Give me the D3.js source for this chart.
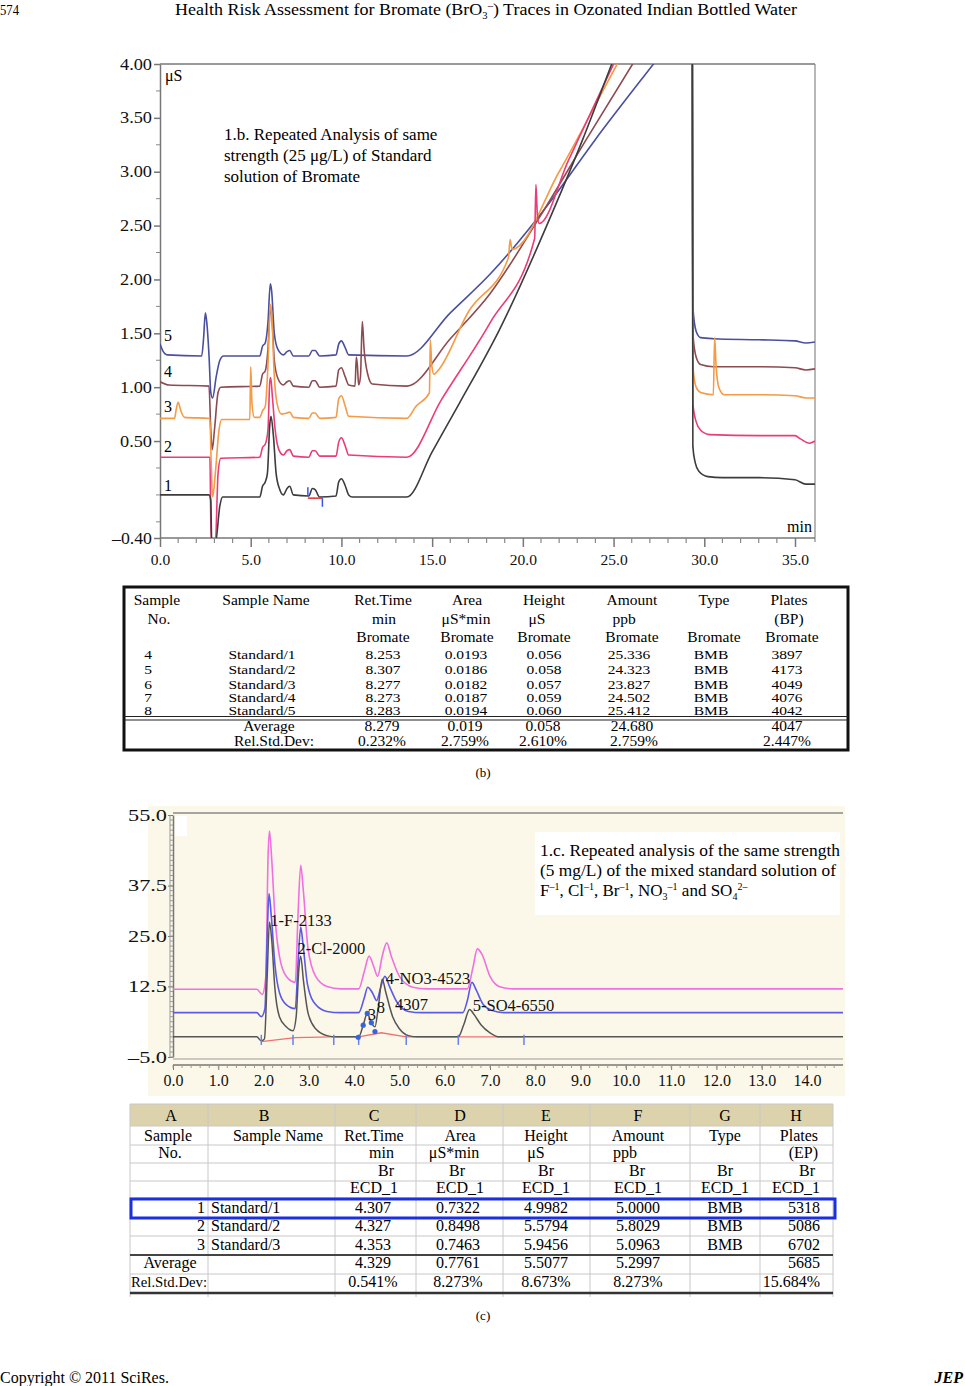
<!DOCTYPE html>
<html><head><meta charset="utf-8">
<script src="https://cdn.jsdelivr.net/npm/d3@7"></script>
<style>
body{margin:0;background:#fff}
svg{display:block;font-family:"Liberation Serif","Times New Roman",serif}
</style></head>
<body><svg id="page" width="965" height="1386"></svg>
<script>
// ---------------- DATA: chart (b) ----------------
const bTimeTicks = [0, 5, 10, 15, 20, 25, 30, 35];
const bValueTicks = [4.0, 3.5, 3.0, 2.5, 2.0, 1.5, 1.0, 0.5, -0.4];
const bTraceNames = ["1", "2", "3", "4", "5"];
const trace1 = [[0,0.0],[2.7,0.0],[2.8,-0.05],[2.85,-0.45],[3.05,-0.45],[3.3,-0.1],[3.45,-0.02],[5.5,-0.02],[5.65,0.08],[5.8,0.12],[5.92,0.2],[6.05,0.65],[6.12,0.73],[6.25,0.55],[6.4,0.2],[6.6,0.05],[6.8,0.0],[7.0,0.06],[7.15,0.08],[7.35,0.0],[8.2,-0.01],[8.4,0.06],[8.55,0.05],[8.8,-0.02],[9.7,-0.01],[9.85,0.12],[10.0,0.15],[10.2,0.09],[10.4,0.0],[10.6,-0.02],[13.6,-0.02],[15.0,0.4],[16.5,0.85],[18.7,1.53],[21.7,2.65],[23.3,3.3],[24.9,4.0],[29.33,5.9],[29.37,0.45],[29.5,0.3],[29.7,0.22],[30.2,0.17],[31.0,0.16],[33.0,0.16],[35.0,0.14],[35.6,0.1],[36.1,0.1]];
const trace2 = [[0,0.35],[2.75,0.35],[2.82,-0.45],[3.05,-0.45],[3.2,0.2],[3.35,0.34],[5.5,0.35],[5.65,0.44],[5.8,0.47],[5.95,0.6],[6.05,1.05],[6.1,1.09],[6.2,0.9],[6.35,0.6],[6.55,0.42],[6.8,0.37],[7.0,0.41],[7.15,0.42],[7.35,0.36],[8.2,0.35],[8.4,0.41],[8.55,0.41],[8.8,0.36],[9.7,0.36],[9.85,0.49],[10.0,0.53],[10.2,0.46],[10.4,0.37],[13.6,0.35],[15.5,0.88],[18.2,1.6],[20.65,2.38],[20.72,2.88],[20.8,2.6],[20.9,2.52],[22.5,3.1],[25.0,4.0],[29.33,5.55],[29.37,0.85],[29.55,0.68],[29.8,0.6],[30.3,0.56],[33.0,0.55],[35.0,0.55],[35.3,0.52],[35.8,0.48],[36.1,0.5]];
const trace3 = [[0,0.71],[0.8,0.71],[0.9,0.8],[1.0,0.86],[1.15,0.78],[1.35,0.72],[2.75,0.71],[2.82,0.3],[2.9,-0.02],[3.05,0.2],[3.25,0.6],[3.4,0.7],[4.95,0.7],[5.0,1.19],[5.07,0.85],[5.2,0.72],[5.5,0.72],[5.65,0.78],[5.8,0.82],[5.95,1.2],[6.08,1.77],[6.15,1.7],[6.3,1.1],[6.45,0.85],[6.7,0.75],[7.0,0.76],[7.15,0.77],[7.35,0.72],[8.2,0.71],[8.4,0.76],[8.55,0.76],[8.8,0.71],[9.7,0.72],[9.85,0.89],[10.0,0.92],[10.2,0.83],[10.4,0.73],[13.6,0.71],[14.1,0.82],[14.85,0.95],[14.9,1.44],[14.98,1.2],[15.1,1.12],[15.3,1.15],[17.0,1.7],[19.2,2.2],[19.3,2.37],[19.4,2.28],[22.0,3.0],[25.2,4.0],[29.33,5.28],[29.37,1.2],[29.55,1.0],[29.8,0.95],[30.5,0.93],[30.57,1.46],[30.65,1.2],[30.8,1.0],[31.1,0.93],[33.0,0.93],[35.0,0.92],[35.6,0.9],[36.1,0.9]];
const trace4 = [[0,1.05],[0.5,1.02],[2.7,1.01],[2.8,0.6],[2.88,0.42],[3.0,0.6],[3.2,0.95],[3.35,1.0],[5.5,1.01],[5.65,1.12],[5.8,1.15],[5.95,1.35],[6.08,1.72],[6.15,1.68],[6.3,1.25],[6.5,1.08],[6.8,1.02],[7.0,1.05],[7.15,1.06],[7.35,1.01],[8.2,1.0],[8.4,1.06],[8.55,1.06],[8.8,1.0],[9.7,1.01],[9.85,1.16],[10.0,1.18],[10.2,1.1],[10.4,1.02],[10.75,1.01],[10.82,1.28],[10.88,1.2],[10.95,1.02],[11.05,1.1],[11.15,1.61],[11.25,1.35],[11.45,1.12],[11.7,1.03],[13.6,1.01],[16.0,1.45],[18.2,1.87],[21.0,2.6],[23.5,3.3],[26.05,4.0],[29.33,4.89],[29.37,1.5],[29.55,1.28],[29.8,1.21],[30.5,1.19],[33.0,1.19],[35.0,1.18],[35.6,1.16],[36.1,1.17]];
const trace5 = [[0,1.4],[0.15,1.34],[0.4,1.3],[2.3,1.29],[2.4,1.45],[2.5,1.69],[2.58,1.6],[2.7,1.3],[2.8,0.95],[2.9,0.9],[3.1,1.1],[3.3,1.25],[3.5,1.29],[5.5,1.29],[5.65,1.38],[5.8,1.41],[5.95,1.6],[6.08,1.96],[6.15,1.9],[6.3,1.5],[6.5,1.35],[6.8,1.3],[7.0,1.33],[7.15,1.34],[7.35,1.29],[8.2,1.29],[8.4,1.34],[8.55,1.34],[8.8,1.29],[9.7,1.3],[9.85,1.4],[10.0,1.43],[10.2,1.37],[10.4,1.3],[13.6,1.29],[16.0,1.69],[18.2,2.05],[21.5,2.72],[24.0,3.3],[27.2,4.0],[29.33,4.46],[29.37,1.75],[29.55,1.52],[29.8,1.46],[30.5,1.45],[33.0,1.44],[35.0,1.43],[35.6,1.41],[36.1,1.42]];
const bMarkerTicks = [[8.15, 0.07, -0.01], [8.95, -0.03, -0.11]];
const bMarkerBase = [[8.15, -0.03], [8.95, -0.03]];

// ---------------- DATA: table (b) ----------------
const bCols = ["Sample", "Sample Name", "Ret.Time", "Area", "Height", "Amount", "Type", "Plates"];
const bUnits = ["No.", "", "min", "μS*min", "μS", "ppb", "", "(BP)"];
const bComp = ["", "", "Bromate", "Bromate", "Bromate", "Bromate", "Bromate", "Bromate"];
const bSampleNo = ["4", "5", "6", "7", "8"];
const bSampleName = ["Standard/1", "Standard/2", "Standard/3", "Standard/4", "Standard/5"];
const bRetTime = ["8.253", "8.307", "8.277", "8.273", "8.283"];
const bArea = ["0.0193", "0.0186", "0.0182", "0.0187", "0.0194"];
const bHeight = ["0.056", "0.058", "0.057", "0.059", "0.060"];
const bAmount = ["25.336", "24.323", "23.827", "24.502", "25.412"];
const bType = ["BMB", "BMB", "BMB", "BMB", "BMB"];
const bPlates = ["3897", "4173", "4049", "4076", "4042"];
const bAverage = ["", "Average", "8.279", "0.019", "0.058", "24.680", "", "4047"];
const bRSD = ["", "Rel.Std.Dev:", "0.232%", "2.759%", "2.610%", "2.759%", "", "2.447%"];

// ---------------- DATA: chart (c) ----------------
const cTimeTicks = [0,1,2,3,4,5,6,7,8,9,10,11,12,13,14];
const cValueTicks = [55.0, 37.5, 25.0, 12.5, -5.0];
const cBlack = [[0,0],[1.85,0],[1.95,-1.0],[2.02,-0.5],[2.08,15],[2.13,28.5],[2.18,24],[2.25,12],[2.35,5],[2.5,2.5],[2.65,1.5],[2.72,5],[2.78,17],[2.82,20],[2.88,14],[2.98,6],[3.15,2],[3.4,0.3],[3.6,0],[4.1,0],[4.2,2.9],[4.29,5.8],[4.38,3.5],[4.46,2.5],[4.53,7],[4.62,14.3],[4.7,11],[4.85,5],[5.0,2],[5.2,0.3],[5.4,0],[6.3,0],[6.42,3],[6.55,6.8],[6.65,5.5],[6.8,3],[7.0,1],[7.2,0],[14.8,0]];
const cBlue = [[0,6],[1.85,6],[1.95,5],[2.03,7],[2.08,25],[2.12,35.5],[2.17,30],[2.25,18],[2.35,11],[2.5,8],[2.7,7],[2.76,18],[2.82,27.2],[2.87,23],[2.97,13],[3.15,8],[3.4,6.3],[3.7,6],[4.1,6],[4.22,9.5],[4.3,12.3],[4.4,11],[4.5,9],[4.58,12],[4.68,15],[4.78,12.5],[4.95,8.5],[5.2,6.3],[5.5,6],[6.4,6],[6.5,9],[6.6,13.5],[6.7,11.5],[6.85,8],[7.05,6.5],[7.3,6],[14.8,6]];
const cMagenta = [[0,11.8],[1.85,11.8],[1.97,10.5],[2.05,15],[2.1,45],[2.13,51],[2.18,44],[2.25,30],[2.35,20],[2.5,15],[2.7,13.5],[2.76,30],[2.82,42.5],[2.88,36],[2.98,22],[3.15,15],[3.4,12.5],[3.7,11.9],[4.1,11.9],[4.22,16],[4.33,20],[4.43,17.5],[4.52,15],[4.62,20],[4.72,23.3],[4.82,20],[5.0,15],[5.3,12.3],[5.6,11.9],[6.5,11.9],[6.62,17],[6.72,21.8],[6.82,20.5],[7.0,15],[7.2,12.5],[7.5,11.9],[14.8,11.9]];
const cRedBase = [[1.95,-1.2],[2.7,-0.2],[3.5,0],[4.1,0],[4.6,1.0],[5.15,0],[6.3,0],[7.75,0]];
const cTickMarks = [1.95, 2.65, 3.55, 4.1, 5.15, 6.3, 7.75];
const cDots = [[4.09,-0.1],[4.2,2.9],[4.29,5.8],[4.38,3.5],[4.46,1.3]];
const cPeakLabels = ["1-F-2133", "2-Cl-2000", "4-NO3-4523", "3", "8", "4307", "5-SO4-6550"];
const cPeakLabelPos = [[2.15, 27.5], [2.75, 20.5], [4.7, 13.1], [4.3, 4.2], [4.5, 6.0], [4.9, 6.6], [6.62, 6.4]];

// ---------------- DATA: table (c) ----------------
const cColLetters = ["A", "B", "C", "D", "E", "F", "G", "H"];
const cCols = ["Sample", "Sample Name", "Ret.Time", "Area", "Height", "Amount", "Type", "Plates"];
const cUnits = ["No.", "", "min", "μS*min", "μS", "ppb", "", "(EP)"];
const cComp = ["", "", "Br", "Br", "Br", "Br", "Br", "Br"];
const cDet = ["", "", "ECD_1", "ECD_1", "ECD_1", "ECD_1", "ECD_1", "ECD_1"];
const cSampleNo = ["1", "2", "3"];
const cSampleName = ["Standard/1", "Standard/2", "Standard/3"];
const cRetTime = ["4.307", "4.327", "4.353"];
const cArea = ["0.7322", "0.8498", "0.7463"];
const cHeight = ["4.9982", "5.5794", "5.9456"];
const cAmount = ["5.0000", "5.8029", "5.0963"];
const cType = ["BMB", "BMB", "BMB"];
const cPlates = ["5318", "5086", "6702"];
const cAverage = ["Average", "", "4.329", "0.7761", "5.5077", "5.2997", "", "5685"];
const cRSD = ["Rel.Std.Dev:", "", "0.541%", "8.273%", "8.673%", "8.273%", "", "15.684%"];

// ================= DRAWING =================
const svg = d3.select("#page");
const serif = '"Liberation Serif","Times New Roman",serif';

// page header
svg.append("text").attr("x", 0).attr("y", 15).attr("font-size", 15).attr("textLength", 19).attr("lengthAdjust", "spacingAndGlyphs").text("574");
const title = svg.append("text").attr("x", 175).attr("y", 15).attr("font-size", 17)
  .attr("textLength", 622).attr("lengthAdjust", "spacingAndGlyphs");
title.append("tspan").text("Health Risk Assessment for Bromate (BrO");
title.append("tspan").attr("font-size", 10).attr("dy", 4).text("3");
title.append("tspan").attr("font-size", 10).attr("dy", -10).text("–");
title.append("tspan").attr("dy", 6).text(") Traces in Ozonated Indian Bottled Water");

// ---------- chart (b) ----------
const xB = d3.scaleLinear().domain([0, 35]).range([160, 795]);
const yB = d3.scaleLinear().domain([-0.4, 4.0]).range([538, 64]);
const bRight = 815;
const gb = svg.append("g");
gb.append("defs").append("clipPath").attr("id", "clipB").append("rect")
  .attr("x", xB(0)).attr("y", yB(4)).attr("width", bRight - xB(0)).attr("height", yB(-0.4) - yB(4));

gb.append("line").attr("x1", xB(0)).attr("x2", bRight).attr("y1", yB(4)).attr("y2", yB(4)).attr("stroke", "#777").attr("stroke-width", 1.5);
gb.append("line").attr("x1", bRight).attr("x2", bRight).attr("y1", yB(4)).attr("y2", yB(-0.4) + 4).attr("stroke", "#888").attr("stroke-width", 1.2);

const yAx = gb.append("g").attr("transform", `translate(${xB(0)},0)`)
  .call(d3.axisLeft(yB).tickValues(bValueTicks).tickSize(6).tickSizeOuter(0)
    .tickFormat(d => d < 0 ? "–" + Math.abs(d).toFixed(2) : d.toFixed(2)));
yAx.select(".domain").attr("stroke", "#777").attr("stroke-width", 1.5);
yAx.selectAll(".tick line").attr("stroke", "#777").attr("stroke-width", 1.5);
yAx.selectAll("text").attr("font-family", serif).attr("font-size", 16).attr("fill", "#111").attr("x", -8)
  .attr("textLength", d => d < 0 ? 40 : 32).attr("lengthAdjust", "spacingAndGlyphs");
const yMinor = d3.range(-0.25, 4.0, 0.25).filter(v => Math.abs(v * 2 - Math.round(v * 2)) > 0.01 || v === 0);
gb.append("g").selectAll("line").data(yMinor).join("line")
  .attr("x1", xB(0) - 4).attr("x2", xB(0)).attr("y1", d => yB(d)).attr("y2", d => yB(d)).attr("stroke", "#888");

const xAx = gb.append("g").attr("transform", `translate(0,${yB(-0.4)})`)
  .call(d3.axisBottom(xB).tickValues(bTimeTicks).tickSize(9).tickSizeOuter(0).tickFormat(d3.format(".1f")));
xAx.select(".domain").attr("stroke", "#777").attr("stroke-width", 1.5).attr("d", `M${xB(0)},0H${bRight}`);
xAx.selectAll(".tick line").attr("stroke", "#777").attr("stroke-width", 1.5);
xAx.selectAll("text").attr("font-family", serif).attr("font-size", 15.5).attr("fill", "#111").attr("y", 16);
gb.append("g").selectAll("line").data(d3.range(0, 36, 1).filter(v => v % 5 !== 0)).join("line")
  .attr("x1", d => xB(d)).attr("x2", d => xB(d)).attr("y1", yB(-0.4)).attr("y2", yB(-0.4) + 5).attr("stroke", "#888").attr("stroke-width", 1.2);

const lineB = d3.line().x(d => xB(d[0])).y(d => yB(d[1])).curve(d3.curveMonotoneX);
const bTraces = [trace1, trace2, trace3, trace4, trace5];
const bColors = ["#3c3c3c", "#ea3c7a", "#f59a45", "#8c4b50", "#4a4f9e"];
const tg = gb.append("g").attr("clip-path", "url(#clipB)");
[4, 3, 2, 1, 0].forEach(i => {
  tg.append("path").datum(bTraces[i]).attr("d", lineB).attr("fill", "none")
    .attr("stroke", bColors[i]).attr("stroke-width", 1.6).attr("stroke-linejoin", "round");
});
tg.append("path").datum(bMarkerBase).attr("d", d3.line().x(d => xB(d[0])).y(d => yB(d[1])))
  .attr("stroke", "#e03030").attr("stroke-width", 1.5).attr("fill", "none");
tg.selectAll("line.mk").data(bMarkerTicks).join("line").attr("class", "mk")
  .attr("x1", d => xB(d[0])).attr("x2", d => xB(d[0])).attr("y1", d => yB(d[1])).attr("y2", d => yB(d[2]))
  .attr("stroke", "#3355ee").attr("stroke-width", 1.5);

const bNumY = [491, 452, 412, 377, 341];
gb.selectAll("text.num").data(bTraceNames).join("text").attr("class", "num")
  .attr("x", 164).attr("y", (d, i) => bNumY[i]).attr("font-size", 16).text(d => d);
gb.append("text").attr("x", 165).attr("y", 81).attr("font-size", 16).text("μS");
gb.append("text").attr("x", 787).attr("y", 532).attr("font-size", 16).text("min");
["1.b. Repeated Analysis of same", "strength (25 μg/L) of Standard", "solution of Bromate"].forEach((t, i) => {
  gb.append("text").attr("x", 224).attr("y", 140 + i * 21).attr("font-size", 17).text(t);
});

// ---------- table (b) ----------
const tb = svg.append("g").attr("font-size", 15.5);
tb.append("rect").attr("x", 124).attr("y", 587).attr("width", 724).attr("height", 163)
  .attr("fill", "#fff").attr("stroke", "#111").attr("stroke-width", 3);
tb.append("line").attr("x1", 124).attr("x2", 848).attr("y1", 716.5).attr("y2", 716.5).attr("stroke", "#222").attr("stroke-width", 1.2);
tb.append("line").attr("x1", 124).attr("x2", 848).attr("y1", 720).attr("y2", 720).attr("stroke", "#222").attr("stroke-width", 1.2);
const bColX = [157, 266, 383, 467, 544, 632, 714, 789];
const bUnitX = [159, 266, 384, 466, 537, 624, 714, 789];
const bDataX = [148, 262, 383, 466, 544, 629, 711, 787];
function txt(g, x, y, s, anchor) {
  return g.append("text").attr("x", x).attr("y", y).attr("text-anchor", anchor || "middle").text(s);
}
// squeezed text (rows in the reference are vertically compressed)
function txtS(g, x, y, s, sy) {
  return g.append("text").attr("transform", `translate(${x},${y}) scale(1.0,${sy})`)
    .attr("text-anchor", "middle").text(s);
}
bCols.forEach((s, i) => txt(tb, bColX[i], 605, s));
bUnits.forEach((s, i) => s && txt(tb, bUnitX[i], 624, s));
bComp.forEach((s, i) => s && txt(tb, i === 7 ? 792 : bColX[i], 642, s));
const bRowY = [659, 674, 689, 702, 715];
const bRowSquash = [0.86, 0.86, 0.86, 0.78, 0.78];
const bRowsCols = [bSampleNo, bSampleName, bRetTime, bArea, bHeight, bAmount, bType, bPlates];
bRowsCols.forEach((col, ci) => col.forEach((s, ri) => txtS(tb, bDataX[ci], bRowY[ri], s, bRowSquash[ri])));
const bSumX = [148, 269, 382, 465, 543, 632, 711, 787];
bAverage.forEach((s, i) => s && txtS(tb, bSumX[i], 731, s, 0.9));
const bRsdX = [148, 274, 382, 465, 543, 634, 711, 787];
bRSD.forEach((s, i) => s && txtS(tb, bRsdX[i], 746, s, 0.9));
svg.append("text").attr("x", 483).attr("y", 777).attr("font-size", 13).attr("text-anchor", "middle").text("(b)");

// ---------- chart (c) ----------
const xC = d3.scaleLinear().domain([0, 14]).range([173, 807]);
const yC = d3.scaleLinear().domain([-5, 55]).range([1057, 815]);
const cRight = 843;
const gc = svg.append("g");
gc.append("rect").attr("x", 148).attr("y", 806).attr("width", cRight - 148 + 2).attr("height", 290).attr("fill", "#fcf8e9");
gc.append("rect").attr("x", 175).attr("y", 816).attr("width", 12).attr("height", 20).attr("fill", "#fff");
gc.append("defs").append("clipPath").attr("id", "clipC").append("rect")
  .attr("x", xC(0)).attr("y", yC(55)).attr("width", cRight - xC(0)).attr("height", yC(-5) - yC(55));
gc.append("line").attr("x1", xC(0)).attr("x2", cRight).attr("y1", yC(55) - 2).attr("y2", yC(55) - 2).attr("stroke", "#888").attr("stroke-width", 1.5);
gc.append("line").attr("x1", xC(0)).attr("x2", cRight).attr("y1", yC(-5) + 2).attr("y2", yC(-5) + 2).attr("stroke", "#999").attr("stroke-width", 1);
const ycAx = gc.append("g").attr("transform", `translate(${xC(0)},0)`)
  .call(d3.axisLeft(yC).tickValues(cValueTicks).tickSize(5).tickSizeOuter(0)
    .tickFormat(d => d < 0 ? "–" + Math.abs(d).toFixed(1) : d.toFixed(1)));
ycAx.select(".domain").attr("stroke", "#777").attr("stroke-width", 1.5);
ycAx.selectAll(".tick line").attr("stroke", "#777");
ycAx.selectAll("text").attr("font-family", serif).attr("font-size", 16).attr("fill", "#111").attr("x", -6)
  .attr("textLength", 39).attr("lengthAdjust", "spacingAndGlyphs");
gc.append("line").attr("x1", xC(0) - 3).attr("x2", xC(0) - 3).attr("y1", yC(55)).attr("y2", yC(-5)).attr("stroke", "#999");
gc.append("g").selectAll("line").data(d3.range(-5, 55, 1.25)).join("line")
  .attr("x1", xC(0) - 3).attr("x2", xC(0)).attr("y1", d => yC(d)).attr("y2", d => yC(d)).attr("stroke", "#999");
const xcAx = gc.append("g").attr("transform", `translate(0,1065)`)
  .call(d3.axisBottom(xC).tickValues(cTimeTicks).tickSize(5).tickSizeOuter(0).tickFormat(d3.format(".1f")));
xcAx.select(".domain").attr("stroke", "#777").attr("stroke-width", 1.5).attr("d", `M${xC(0)},0H${cRight}`);
xcAx.selectAll(".tick line").attr("stroke", "#777");
xcAx.selectAll("text").attr("font-family", serif).attr("font-size", 16).attr("fill", "#111").attr("y", 10);
gc.append("g").selectAll("line").data(d3.range(0, 14.8, 0.2)).join("line")
  .attr("x1", d => xC(d)).attr("x2", d => xC(d)).attr("y1", 1065).attr("y2", 1068).attr("stroke", "#999");

const lineC = d3.line().x(d => xC(d[0])).y(d => yC(d[1])).curve(d3.curveMonotoneX);
const cg = gc.append("g").attr("clip-path", "url(#clipC)");
cg.append("path").datum(cMagenta).attr("d", lineC).attr("fill", "none").attr("stroke", "#f070e0").attr("stroke-width", 1.6);
cg.append("path").datum(cBlue).attr("d", lineC).attr("fill", "none").attr("stroke", "#5a5ae6").attr("stroke-width", 1.6);
cg.append("path").datum(cRedBase).attr("d", d3.line().x(d => xC(d[0])).y(d => yC(d[1]))).attr("fill", "none").attr("stroke", "#f07070").attr("stroke-width", 1.4);
cg.append("path").datum(cBlack).attr("d", lineC).attr("fill", "none").attr("stroke", "#555").attr("stroke-width", 1.5);
cg.selectAll("line.tk").data(cTickMarks).join("line").attr("class", "tk")
  .attr("x1", d => xC(d)).attr("x2", d => xC(d)).attr("y1", yC(0.5)).attr("y2", yC(-2)).attr("stroke", "#6680ee").attr("stroke-width", 1.5);
cg.selectAll("circle").data(cDots).join("circle").attr("cx", d => xC(d[0])).attr("cy", d => yC(d[1])).attr("r", 2.6).attr("fill", "#3366dd");
gc.selectAll("text.pk").data(cPeakLabels).join("text").attr("class", "pk")
  .attr("x", (d, i) => xC(cPeakLabelPos[i][0])).attr("y", (d, i) => yC(cPeakLabelPos[i][1]))
  .attr("font-size", 16.5).attr("fill", "#111").text(d => d);
gc.append("rect").attr("x", 535).attr("y", 832).attr("width", 305).attr("height", 83).attr("fill", "#fff");
gc.append("text").attr("x", 540).attr("y", 856).attr("font-size", 17)
  .attr("textLength", 300).attr("lengthAdjust", "spacingAndGlyphs").text("1.c.  Repeated analysis of the same strength");
gc.append("text").attr("x", 540).attr("y", 876).attr("font-size", 17)
  .attr("textLength", 296).attr("lengthAdjust", "spacingAndGlyphs").text("(5 mg/L) of the mixed standard solution of");
const l3 = gc.append("text").attr("x", 540).attr("y", 896).attr("font-size", 17);
const l3parts = [["F", 0, 17], ["–1", -6, 10], [", Cl", 6, 17], ["–1", -6, 10], [", Br", 6, 17], ["–1", -6, 10],
  [", NO", 6, 17], ["3", 4, 10], ["–1", -10, 10], [" and SO", 6, 17], ["4", 4, 10], ["2–", -10, 10]];
l3parts.forEach(p => l3.append("tspan").attr("dy", p[1]).attr("font-size", p[2]).text(p[0]));

// ---------- table (c) ----------
const tc = svg.append("g").attr("font-size", 16);
const cColB = [130, 208, 335, 416, 503, 590, 690, 760, 833];
const cRowB = [1104, 1126, 1145, 1163, 1181, 1198, 1218, 1236, 1255, 1274, 1293];
tc.append("rect").attr("x", 130).attr("y", 1104).attr("width", 703).attr("height", 22).attr("fill", "#dcd3ad");
tc.selectAll("line.h").data(cRowB).join("line").attr("class", "h")
  .attr("x1", 130).attr("x2", 833).attr("y1", d => d).attr("y2", d => d).attr("stroke", "#c8c8c8");
tc.selectAll("line.v").data(cColB).join("line").attr("class", "v")
  .attr("x1", d => d).attr("x2", d => d).attr("y1", 1104).attr("y2", 1297).attr("stroke", "#c8c8c8");
tc.append("line").attr("x1", 130).attr("x2", 833).attr("y1", 1255).attr("y2", 1255).attr("stroke", "#444").attr("stroke-width", 2);
tc.append("line").attr("x1", 130).attr("x2", 833).attr("y1", 1293).attr("y2", 1293).attr("stroke", "#333").attr("stroke-width", 2.5);
const cColX = [171, 264, 374, 460, 546, 638, 725, 796];
cColLetters.forEach((s, i) => txt(tc, cColX[i], 1121, s));
const cHeadX = [168, 278, 374, 460, 546, 638, 725, 818];
cCols.forEach((s, i) => txt(tc, cHeadX[i], 1141, s, i === 7 ? "end" : "middle"));
const cUnitX = [170, 0, 394, 454, 536, 625, 0, 818];
cUnits.forEach((s, i) => s && txt(tc, cUnitX[i], 1158, s, (i === 2 || i === 7) ? "end" : "middle"));
const cCompX = [0, 0, 394, 457, 546, 637, 725, 815];
cComp.forEach((s, i) => s && txt(tc, cCompX[i], 1176, s, (i === 2 || i === 7) ? "end" : "middle"));
cDet.forEach((s, i) => s && txt(tc, cColX[i], 1193, s));
const cRowY = [1213, 1231, 1250];
cSampleNo.forEach((s, i) => txt(tc, 205, cRowY[i], s, "end"));
cSampleName.forEach((s, i) => txt(tc, 211, cRowY[i], s, "start"));
const cDataX = [0, 0, 373, 458, 546, 638, 725, 820];
[null, null, cRetTime, cArea, cHeight, cAmount, cType, cPlates].forEach((col, ci) => {
  if (!col) return;
  col.forEach((s, ri) => txt(tc, cDataX[ci], cRowY[ri], s, ci === 7 ? "end" : "middle"));
});
cAverage.forEach((s, i) => s && txt(tc, i === 0 ? 170 : cDataX[i], 1268, s, i === 7 ? "end" : "middle"));
cRSD.forEach((s, i) => {
  if (!s) return;
  if (i === 0) tc.append("text").attr("x", 131).attr("y", 1287).attr("font-size", 14)
    .attr("textLength", 76).attr("lengthAdjust", "spacingAndGlyphs").text(s);
  else txt(tc, cDataX[i], 1287, s, i === 7 ? "end" : "middle");
});
tc.append("rect").attr("x", 131).attr("y", 1199).attr("width", 704).attr("height", 19)
  .attr("fill", "none").attr("stroke", "#1a2fe0").attr("stroke-width", 3);
svg.append("text").attr("x", 483).attr("y", 1320).attr("font-size", 13).attr("text-anchor", "middle").text("(c)");

// footer
svg.append("text").attr("x", 0).attr("y", 1383).attr("font-size", 16).text("Copyright © 2011 SciRes.");
svg.append("text").attr("x", 963).attr("y", 1383).attr("font-size", 16).attr("text-anchor", "end")
  .attr("font-weight", "bold").attr("font-style", "italic").text("JEP");
</script></body></html>
